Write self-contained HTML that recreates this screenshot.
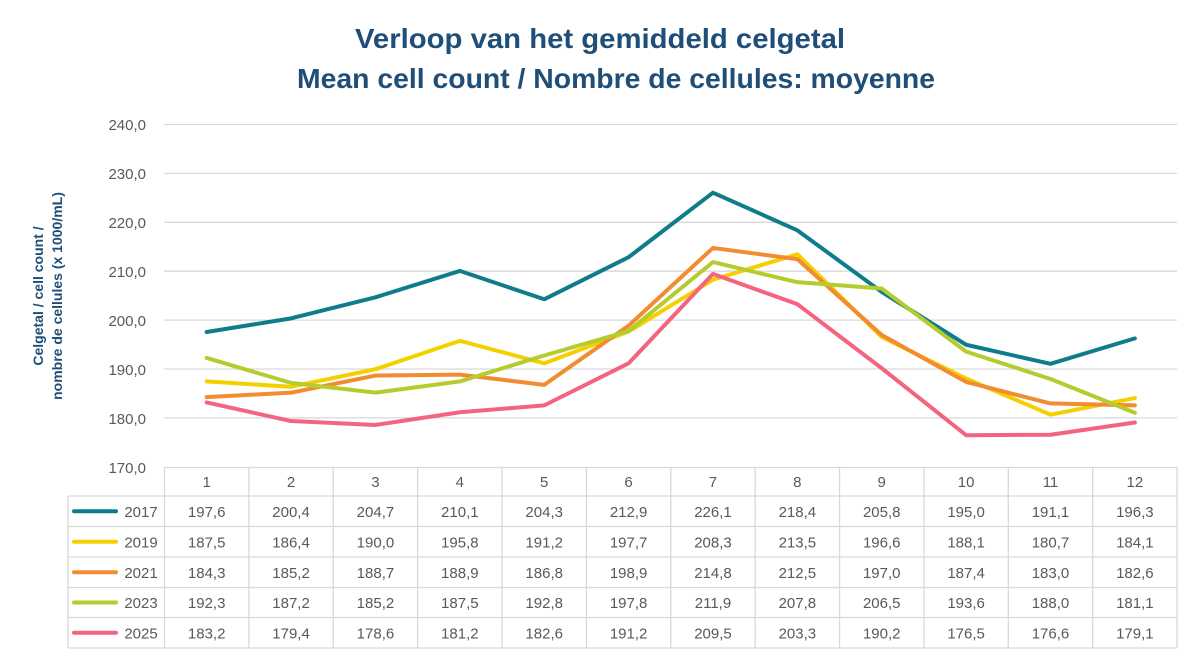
<!DOCTYPE html>
<html><head><meta charset="utf-8"><style>
body{margin:0;background:#fff;width:1200px;height:659px;overflow:hidden;font-family:"Liberation Sans",sans-serif}
</style></head><body>
<svg width="1200" height="659" xmlns="http://www.w3.org/2000/svg" font-family="Liberation Sans, sans-serif">
<text x="355" y="48" textLength="490" lengthAdjust="spacingAndGlyphs" font-size="28" font-weight="bold" fill="#1f4e79">Verloop van het gemiddeld celgetal</text>
<text x="297" y="88" textLength="638" lengthAdjust="spacingAndGlyphs" font-size="28" font-weight="bold" fill="#1f4e79">Mean cell count / Nombre de cellules: moyenne</text>
<text transform="translate(43,296) rotate(-90)" text-anchor="middle" font-size="14" font-weight="bold" fill="#1f4e79">Celgetal / cell count /</text>
<text transform="translate(62,296) rotate(-90)" text-anchor="middle" font-size="14" font-weight="bold" fill="#1f4e79">nombre de cellules (x 1000/mL)</text>
<g stroke="#d9d9d9" stroke-width="1.3">
<line x1="164" x2="1177" y1="124.5" y2="124.5"/><line x1="164" x2="1177" y1="173.4" y2="173.4"/><line x1="164" x2="1177" y1="222.3" y2="222.3"/><line x1="164" x2="1177" y1="271.2" y2="271.2"/><line x1="164" x2="1177" y1="320.1" y2="320.1"/><line x1="164" x2="1177" y1="369" y2="369"/><line x1="164" x2="1177" y1="417.9" y2="417.9"/>
</g>
<g font-size="15" fill="#595959" text-anchor="end">
<text x="146" y="130">240,0</text><text x="146" y="179">230,0</text><text x="146" y="228">220,0</text><text x="146" y="277">210,0</text><text x="146" y="326">200,0</text><text x="146" y="375">190,0</text><text x="146" y="424">180,0</text><text x="146" y="473">170,0</text>
</g>
<g id="tbl" stroke="#d9d9d9" stroke-width="1.3" fill="none"></g>
<g id="lines" fill="none" stroke-width="4" stroke-linejoin="round" stroke-linecap="round"></g>
<g id="txt" font-size="15" fill="#595959" text-anchor="middle"></g>
</svg>
<script>
const ns="http://www.w3.org/2000/svg";
const data=[["2017","#0e7c8b",[197.6,200.4,204.7,210.1,204.3,212.9,226.1,218.4,205.8,195.0,191.1,196.3]],
["2019","#f5d000",[187.5,186.4,190.0,195.8,191.2,197.7,208.3,213.5,196.6,188.1,180.7,184.1]],
["2021","#f28c30",[184.3,185.2,188.7,188.9,186.8,198.9,214.8,212.5,197.0,187.4,183.0,182.6]],
["2023","#b5cc2e",[192.3,187.2,185.2,187.5,192.8,197.8,211.9,207.8,206.5,193.6,188.0,181.1]],
["2025","#f4647f",[183.2,179.4,178.6,181.2,182.6,191.2,209.5,203.3,190.2,176.5,176.6,179.1]]];
const x0=164.5,cw=84.38,yv=v=>467-(v-170)*4.89;
const rows=[467.5,496,526.5,557,587.5,617.5,648];
function el(t,a,p,txt){const e=document.createElementNS(ns,t);for(const k in a)e.setAttribute(k,a[k]);if(txt!==undefined)e.textContent=txt;document.getElementById(p).appendChild(e);}
for(let i=0;i<=12;i++){const x=x0+i*cw;el("line",{x1:x,x2:x,y1:rows[0],y2:648},"tbl");}
el("line",{x1:68,x2:68,y1:496,y2:648},"tbl");
el("line",{x1:x0,x2:x0+12*cw,y1:rows[0],y2:rows[0]},"tbl");
for(let r=1;r<rows.length;r++)el("line",{x1:68,x2:x0+12*cw,y1:rows[r],y2:rows[r]},"tbl");
for(let i=0;i<12;i++)el("text",{x:x0+(i+.5)*cw,y:487},"txt",String(i+1));
data.forEach((d,r)=>{
 el("polyline",{points:d[2].map((v,i)=>(x0+(i+.5)*cw)+","+yv(v)).join(" "),stroke:d[1]},"lines");
 const cy=(rows[r+1]+rows[r+2])/2;
 el("line",{x1:74,x2:116,y1:cy,y2:cy,stroke:d[1],"stroke-width":4,"stroke-linecap":"round"},"lines");
 el("text",{x:141,y:cy+5.5},"txt",d[0]);
 d[2].forEach((v,i)=>el("text",{x:x0+(i+.5)*cw,y:cy+5.5},"txt",v.toFixed(1).replace(".",",")));
});
</script>
</body></html>
